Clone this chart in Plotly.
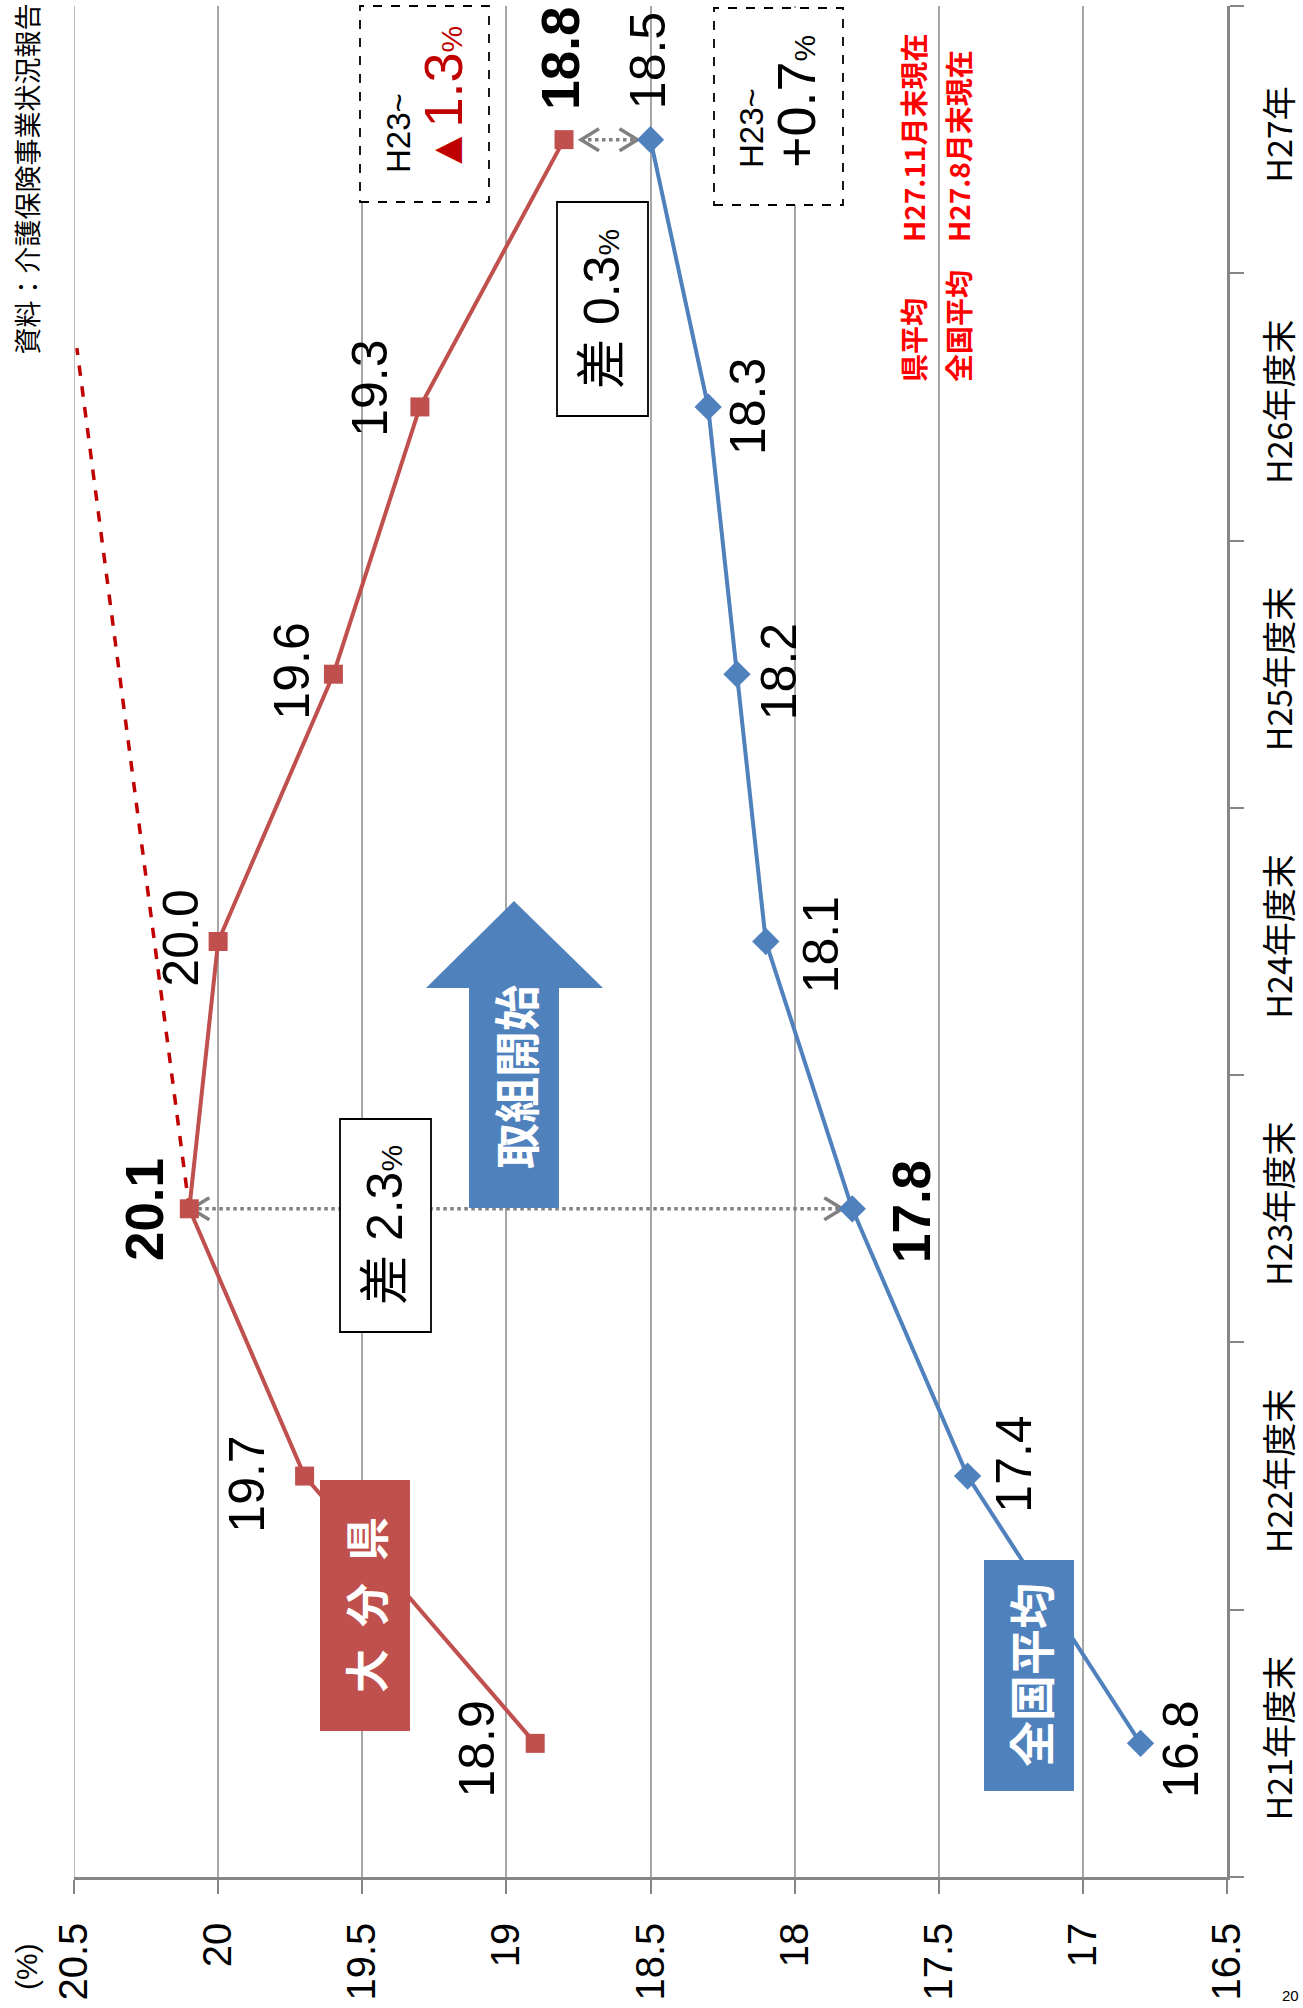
import plotly.graph_objects as go

# ---------------- data ----------------
categories = ["H21年度末", "H22年度末", "H23年度末", "H24年度末", "H25年度末", "H26年度末", "H27年"]
oita = [18.9, 19.7, 20.1, 20.0, 19.6, 19.3, 18.8]          # 大分県
national = [16.8, 17.4, 17.8, 18.1, 18.2, 18.3, 18.5]      # 全国平均
trend_vals = [20.1, 20.49]                                  # projected trend (dashed)
trend_pos = [2, 5.22]
x_tickvals = [20.5, 20, 19.5, 19, 18.5, 18, 17.5, 17, 16.5]
x_ticktext = ["20.5", "20", "19.5", "19", "18.5", "18", "17.5", "17", "16.5"]
gap_pairs = [(2, 20.1, 17.8), (6, 18.8, 18.5)]               # (category idx, left value, right value)

pos = list(range(len(categories)))

# ---------------- style ----------------
W, H = 1303, 2008
L, R, T, B = 74, 1227, 6, 1877
RED = "#C0504D"
BLUE = "#4F81BD"
DARKRED = "#C00000"
GRAY = "#808080"
GRID = "#A6A6A6"
AXIS = "#868686"
NUMF = "Liberation Sans, Noto Sans CJK JP"
CJK = "Noto Sans CJK JP"

def px(x):
    return (x - L) / (R - L)

def py(y):
    return (B - y) / (B - T)

fig = go.Figure()

# trend dashed line
fig.add_trace(go.Scatter(x=trend_vals, y=trend_pos, mode="lines",
                         line=dict(color=DARKRED, width=3.5, dash="dash"),
                         hoverinfo="skip", showlegend=False))

# gap dotted lines and chevrons
u_per_px_x = 4.0 / (R - L)
u_per_px_y = 7.0 / (B - T)
gap_off = [(2, 10), (17, 13)]
chev_dx = 18 * u_per_px_x
chev_dy = 11 * u_per_px_y
for (idx, vl, vr), (ol, orr) in zip(gap_pairs, gap_off):
    tl = vl - ol * u_per_px_x
    tr = vr + orr * u_per_px_x
    fig.add_trace(go.Scatter(x=[tl, tr], y=[idx, idx], mode="lines",
                             line=dict(color=GRAY, width=3.5, dash="dot"),
                             hoverinfo="skip", showlegend=False))
    fig.add_trace(go.Scatter(
        x=[tl - chev_dx, tl, tl - chev_dx, None, tr + chev_dx, tr, tr + chev_dx],
        y=[idx + chev_dy, idx, idx - chev_dy, None, idx + chev_dy, idx, idx - chev_dy],
        mode="lines", line=dict(color=GRAY, width=3.5),
        hoverinfo="skip", showlegend=False))

# main series
fig.add_trace(go.Scatter(x=oita, y=pos, mode="lines+markers", name="大分県",
                         line=dict(color=RED, width=4),
                         marker=dict(symbol="square", size=19, color=RED),
                         showlegend=False))
fig.add_trace(go.Scatter(x=national, y=pos, mode="lines+markers", name="全国平均",
                         line=dict(color=BLUE, width=4),
                         marker=dict(symbol="diamond", size=21, color=BLUE),
                         showlegend=False))

ann = []
# data labels (offsets in px)
red_off = [(-58, -6), (-58, -8), (-45, -1), (-38, 3), (-41, 3), (-50, 19), (-3, 81)]
blue_off = [(41, -6), (46, 12), (60, -3), (55, -3), (42, 3), (40, 0), (-3, 79)]
red_bold = {2, 6}
blue_bold = {2}
for vals, offs, bold in ((oita, red_off, red_bold), (national, blue_off, blue_bold)):
    for i, (v, (dx, dy)) in enumerate(zip(vals, offs)):
        b = i in bold
        ann.append(dict(x=v, y=i, xref="x", yref="y",
                        text=f"<b>{v:.1f}</b>" if b else f"{v:.1f}",
                        showarrow=False, textangle=-90, xshift=dx, yshift=dy,
                        font=dict(family=NUMF, size=53 if b else 50, color="black")))

shapes = []

# gridline at the left edge (20.5)
shapes.append(dict(type="line", xref="x", yref="paper", x0=x_tickvals[0], x1=x_tickvals[0],
                   y0=0, y1=1, line=dict(color=GRID, width=1.5), layer="below"))


def rect(x0, y0, x1, y1, fill, line_color=None, dash=None, lw=1.5):
    shapes.append(dict(type="rect", xref="paper", yref="paper",
                       x0=px(x0), x1=px(x1), y0=py(y1), y1=py(y0),
                       fillcolor=fill, layer="above",
                       line=dict(color=line_color or fill, width=lw if line_color else 0,
                                 dash=dash or "solid")))


def text(x, y, t, size, color="black", family=CJK, angle=-90, xa="center", ya="middle", align="center"):
    ann.append(dict(x=px(x), y=py(y), xref="paper", yref="paper", text=t,
                    showarrow=False, textangle=angle, xanchor=xa, yanchor=ya, align=align,
                    font=dict(family=family, size=size, color=color)))

# difference boxes
rect(340, 1119, 431, 1332, "white", "black", lw=1.8)
text(385, 1225, "差 2.3<span style='font-size:30px'>%</span>", 50, family=NUMF)
rect(557, 202, 648, 416, "white", "black", lw=1.8)
text(602, 309, "差 0.3<span style='font-size:30px'>%</span>", 50, family=NUMF)

# dashed boxes
rect(360, 6, 489, 202, "white", "black", dash="dash", lw=1.8)
text(426, 100,
     "<span style='font-size:33px'>H23~</span><br>"
     "<span style='color:#C00000;font-size:46px'>▲</span>"
     "<span style='color:#C00000;font-size:54px'>1.3</span>"
     "<span style='color:#C00000;font-size:30px'>%</span>",
     40, family=NUMF, align="left")
rect(714, 8, 843, 205, "white", "black", dash="dash", lw=1.8)
text(780, 102,
     "<span style='font-size:33px'>H23~</span><br>"
     "<span style='font-size:54px'>+0.7</span>"
     "<span style='font-size:30px'>%</span>",
     40, family=NUMF, align="left")

# series name boxes
rect(320, 1480, 410, 1731, RED)
text(365, 1605, "<b>大\u2002分\u2002県</b>", 44, color="white")
rect(984, 1560, 1074, 1791, BLUE)
text(1029, 1675, "<b>全国平均</b>", 46, color="white")

# arrow 取組開始
pts = [(514, 901), (603, 988), (559, 988), (559, 1208), (469, 1208), (469, 988), (426, 988)]
path = "M " + " L ".join(f"{px(a):.5f},{py(b):.5f}" for a, b in pts) + " Z"
shapes.append(dict(type="path", xref="paper", yref="paper", path=path,
                   fillcolor=BLUE, line=dict(width=0), layer="above"))
text(514, 1077, "<b>取組開始</b>", 46, color="white")

# red notes
text(913, 384, "<b>県平均　　H27.11月末現在</b>", 28, color="#FF0000", ya="bottom")
text(958, 384, "<b>全国平均　H27.8月末現在</b>", 28, color="#FF0000", ya="bottom")

# source & unit
text(26, 2, "資料：介護保険事業状況報告", 27, ya="top")
text(26, 1967, "(%)", 30, family=NUMF)
text(1301, 2006, "20", 15, family=NUMF, angle=0, xa="right", ya="bottom")

fig.update_layout(
    width=W, height=H,
    margin=dict(l=L, r=W - R, t=T, b=H - B, pad=0, autoexpand=False),
    paper_bgcolor="white", plot_bgcolor="white",
    showlegend=False,
    annotations=ann, shapes=shapes,
    xaxis=dict(range=[20.5, 16.5], tickmode="array", tickvals=x_tickvals, ticktext=x_ticktext,
               tickangle=-90, tickfont=dict(family=NUMF, size=40, color="black"),
               showgrid=True, gridcolor=GRID, gridwidth=1.5,
               showline=True, linecolor=AXIS, linewidth=2.5,
               ticks="outside", ticklen=14, tickwidth=1.5, tickcolor=AXIS,
               zeroline=False, ticklabelstandoff=13, automargin=False),
    yaxis=dict(range=[-0.5, 6.5], side="right", tickmode="array", tickvals=pos, ticktext=categories,
               tickangle=-90, tickfont=dict(family=CJK, size=34, color="black"),
               showgrid=False, showline=True, linecolor=AXIS, linewidth=2.5,
               ticks="", zeroline=False, ticklabelstandoff=21, automargin=False,
               minor=dict(tickvals=[p - 0.5 for p in pos] + [pos[-1] + 0.5], ticks="outside",
                          ticklen=14, tickwidth=1.5, tickcolor=AXIS, showgrid=False)),
)

fig.write_html("out.html", config={"displayModeBar": False},
               post_script="document.body.style.margin='0';document.body.style.overflow='hidden';")
